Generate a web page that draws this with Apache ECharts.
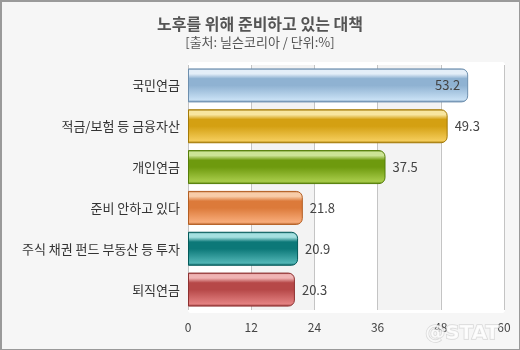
<!DOCTYPE html>
<html>
<head>
<meta charset="utf-8">
<script src="https://cdn.jsdelivr.net/npm/echarts@6/dist/echarts.min.js"></script>
<style>
  html, body { margin: 0; padding: 0; background: #f6f6f6; }
  #chart { width: 520px; height: 350px; }
</style>
</head>
<body>
<div id="chart"></div>
<script>
// Categories (top to bottom) and their shares in percent
var categories = ['국민연금', '적금/보험 등 금융자산', '개인연금', '준비 안하고 있다', '주식 채권 펀드 부동산 등 투자', '퇴직연금'];
var values = [53.2, 49.3, 37.5, 21.8, 20.9, 20.3];
var xTicks = [0, 12, 24, 36, 48, 60];

// Glossy bar palette: [edge, highlight, middle, bottom]
var palettes = [
  ['#6d8fae', '#e4eef8', '#8fb2d2', '#c8e0f4'],
  ['#a47a06', '#f8e6a0', '#d4a012', '#f4cc5a'],
  ['#557e08', '#cce496', '#6e9a0e', '#a8cc4a'],
  ['#b45e22', '#f8cca8', '#dc7a3a', '#f8ac7a'],
  ['#035a5a', '#a4e0e0', '#0c7878', '#52b6b6'],
  ['#8e3030', '#f0b4b4', '#b64848', '#e48282']
];

var font = '"Noto Sans CJK KR", "Noto Sans", sans-serif';

function glossy(p) {
  return new echarts.graphic.LinearGradient(0, 0, 0, 1, [
    { offset: 0, color: p[0] },
    { offset: 0.06, color: p[1] },
    { offset: 0.16, color: p[1] },
    { offset: 0.3, color: p[2] },
    { offset: 0.5, color: p[2] },
    { offset: 0.92, color: p[3] },
    { offset: 1, color: p[0] }
  ]);
}

var items = values.map(function (v, i) {
  var p = palettes[i];
  return {
    value: v,
    itemStyle: { color: glossy(p), borderColor: p[0], borderWidth: 1, borderRadius: [0, 6, 6, 0] },
    label: { position: v > 50 ? 'insideRight' : 'right', distance: v > 50 ? 8 : 7 }
  };
});

var chart = echarts.init(document.getElementById('chart'), null, { renderer: 'canvas' });
chart.setOption({
  backgroundColor: '#f6f6f6',
  animation: false,
  title: {
    text: '노후를 위해 준비하고 있는 대책',
    subtext: '[출처: 닐슨코리아 / 단위:%]',
    left: 'center',
    top: 11,
    itemGap: 4,
    textStyle: { fontFamily: font, fontSize: 16, fontWeight: 'bold', color: '#555' },
    subtextStyle: { fontFamily: font, fontSize: 13, color: '#555' }
  },
  graphic: [
    { type: 'rect', left: 0, top: 0, z: -10, shape: { width: 519, height: 349 },
      style: { fill: '#f6f6f6', stroke: '#9a9a9a', lineWidth: 2 }, silent: true },
    { type: 'rect', left: 188, top: 62, z: -5, shape: { width: 317, height: 251, r: 3 },
      style: { fill: '#ffffff' }, silent: true },
    { type: 'text', right: 20, bottom: 5, z: 10,
      style: { text: '@STAT', fontFamily: 'DejaVu Sans', fontSize: 20, fontWeight: 'bold',
               fill: 'rgba(255,255,255,0.8)', stroke: 'rgba(190,190,190,0.5)', lineWidth: 1.5 } }
  ],
  grid: { left: 188, right: 16, top: 65, bottom: 40, containLabel: false },
  xAxis: {
    type: 'value',
    min: xTicks[0],
    max: xTicks[xTicks.length - 1],
    interval: 12,
    axisLine: { show: false },
    axisTick: { show: false },
    axisLabel: { fontFamily: font, fontSize: 12, color: '#444', margin: 11 },
    splitLine: { show: true, lineStyle: { color: '#c4c4c4', width: 1 } },
    splitArea: { show: true, areaStyle: { color: ['#ffffff', '#f3f3f3'] } }
  },
  yAxis: {
    type: 'category',
    data: categories,
    inverse: true,
    axisLine: { show: false },
    axisTick: { show: false },
    axisLabel: { fontFamily: font, fontSize: 13, color: '#333', margin: 8 }
  },
  series: [{
    type: 'bar',
    data: items,
    barWidth: 34,
    label: { show: true, fontFamily: font, fontSize: 13, color: '#444' }
  }]
});
</script>
</body>
</html>
